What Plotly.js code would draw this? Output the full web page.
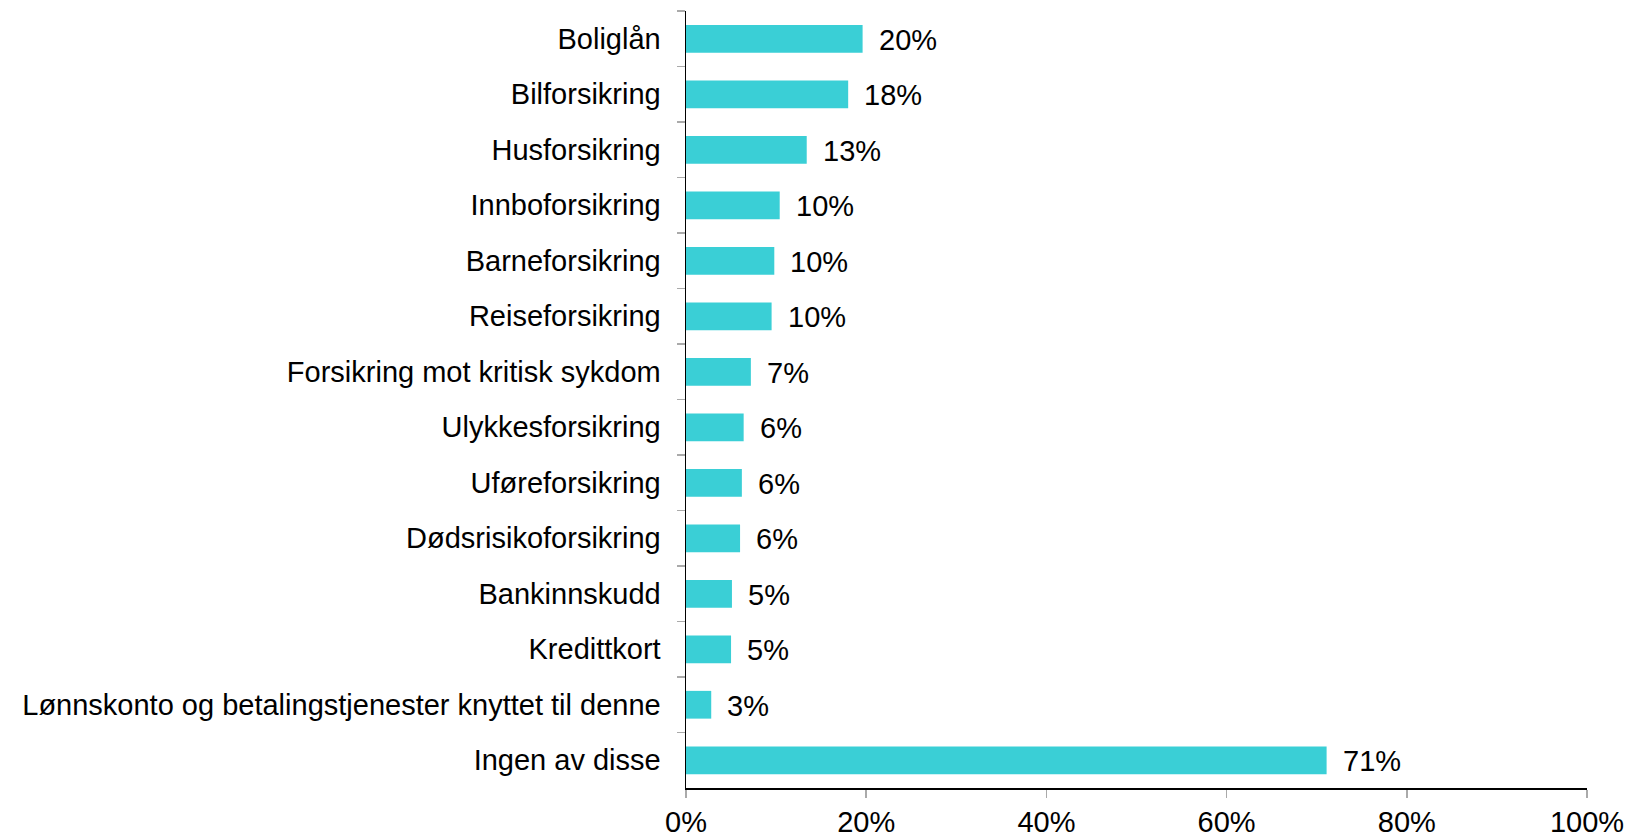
<!DOCTYPE html>
<html>
<head>
<meta charset="utf-8">
<script src="https://cdn.plot.ly/plotly-3.0.1.min.js"></script>
<style>html,body{margin:0;padding:0;background:#fff;}#chart{width:1632px;height:836px;}</style>
</head>
<body>
<div id="chart"></div>
<script>
const categories = [
  "Boliglån",
  "Bilforsikring",
  "Husforsikring",
  "Innboforsikring",
  "Barneforsikring",
  "Reiseforsikring",
  "Forsikring mot kritisk sykdom",
  "Ulykkesforsikring",
  "Uføreforsikring",
  "Dødsrisikoforsikring",
  "Bankinnskudd",
  "Kredittkort",
  "Lønnskonto og betalingstjenester knyttet til denne",
  "Ingen av disse"
];
const values = [19.6, 18.0, 13.4, 10.4, 9.8, 9.5, 7.2, 6.4, 6.2, 6.0, 5.1, 5.0, 2.8, 71.1];
const valueLabels = ["20%", "18%", "13%", "10%", "10%", "10%", "7%", "6%", "6%", "6%", "5%", "5%", "3%", "71%"];
const xTickValues = [0, 20, 40, 60, 80, 100];
const xTickLabels = ["0%", "20%", "40%", "60%", "80%", "100%"];

const font = {family: "Liberation Sans, Arial, sans-serif", size: 29, color: "#000"};

const trace = {
  type: "bar",
  orientation: "h",
  x: values,
  y: categories,
  marker: {color: "#3ACFD6"},
  hoverinfo: "none"
};

const annotations = values.map((v, i) => ({
  x: v, y: categories[i], xref: "x", yref: "y",
  text: valueLabels[i], showarrow: false,
  xanchor: "left", yanchor: "middle", xshift: 14, yshift: -1,
  font: font
}));

const layout = {
  width: 1632, height: 836,
  margin: {l: 686, r: 45, t: 11, b: 48},
  paper_bgcolor: "#fff", plot_bgcolor: "#fff",
  font: font,
  showlegend: false,
  bargap: 0.5,
  xaxis: {
    range: [0, 100],
    tickvals: xTickValues, ticktext: xTickLabels,
    showgrid: false, zeroline: false,
    showline: true, linecolor: "#000", linewidth: 1.5,
    ticks: "outside", ticklen: 8, tickcolor: "#aaaaaa", tickwidth: 1.5,
    tickfont: font, fixedrange: true
  },
  yaxis: {
    autorange: "reversed",
    showgrid: false, zeroline: false,
    showline: true, linecolor: "#000", linewidth: 1.5,
    ticks: "outside", tickson: "boundaries", ticklen: 8, tickcolor: "#aaaaaa", tickwidth: 1.5,
    ticklabelstandoff: 18,
    tickfont: font, fixedrange: true
  },
  annotations: annotations
};

Plotly.newPlot("chart", [trace], layout, {displayModeBar: false, staticPlot: true});
</script>
</body>
</html>
